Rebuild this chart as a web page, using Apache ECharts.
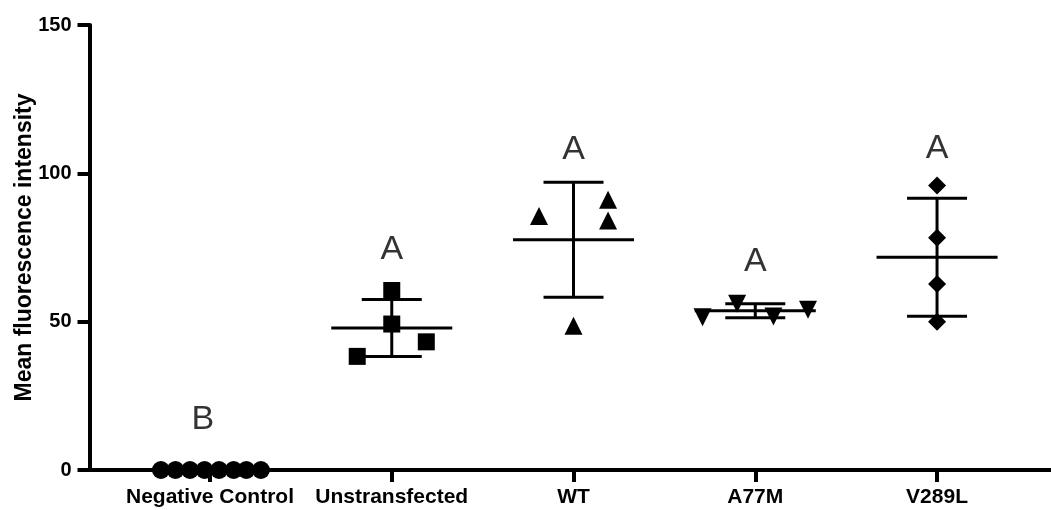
<!DOCTYPE html>
<html><head><meta charset="utf-8">
<script src="https://cdn.jsdelivr.net/npm/echarts@6/dist/echarts.min.js"></script>
<style>html,body{margin:0;padding:0;background:#fff}#c{width:1051px;height:510px}</style>
</head><body><div id="c"></div>
<script>
const categories = ['Negative Control','Unstransfected','WT','A77M','V289L'];
const yTicks = [0,50,100,150];
const negValues = [0,0,0,0,0,0,0,0];
const negJitter = [-0.27,-0.19,-0.11,-0.03,0.05,0.13,0.20,0.28];
const unstValues = [60.5,49.2,43.2,38.3];
const unstJitter = [0,0,0.19,-0.19];
const wtValues = [85.6,91.1,84.1,48.6];
const wtJitter = [-0.19,0.19,0.19,0];
const a77mValues = [51.5,56.0,51.7,54.0];
const a77mJitter = [-0.29,-0.10,0.10,0.29];
const v289lValues = [95.9,78.3,62.7,50.0];
const v289lJitter = [0,0,0,0];
const means = [0,47.9,77.6,53.7,71.7];
const sds = [0,9.6,19.4,2.35,19.9];
const letters = ['B','A','A','A','A'];
const letterY = [17.0,74.3,108,70.1,108.4];
const letterJitter = [-0.04,0,0,0,0];

const FONT = "'Liberation Sans', Arial, Helvetica, sans-serif";
function pts(i, vals, jit){ return vals.map((v,k)=>[i+jit[k], v]); }
function scatter(i, vals, jit, symbol, size, rotate){
  return {type:'scatter', data:pts(i,vals,jit), symbol:symbol, symbolSize:size, symbolRotate:rotate||0,
    itemStyle:{color:'#000', opacity:1}, silent:true, z:3};
}
const chart = echarts.init(document.getElementById('c'), null, {renderer:'canvas'});
chart.setOption({
  animation:false,
  grid:{left:89.5, right:0, top:25, bottom:40, containLabel:false, outerBoundsMode:'none'},
  xAxis:{type:'value', min:-0.663, max:4.627,
    axisLine:{show:true, onZero:false, lineStyle:{color:'#000', width:4}},
    axisTick:{show:true, customValues:[0,1,2,3,4], length:12, lineStyle:{color:'#000', width:4}},
    axisLabel:{show:true, customValues:[0,1,2,3,4], formatter:v=>categories[Math.round(v)],
      fontSize:21, fontWeight:'bold', color:'#000', fontFamily:FONT, margin:17},
    splitLine:{show:false}},
  yAxis:{type:'value', min:0, max:150, interval:50,
    name:'Mean fluorescence intensity', nameLocation:'middle', nameGap:53, nameMoveOverlap:false,
    nameTextStyle:{fontSize:23, fontWeight:'bold', color:'#000', fontFamily:FONT},
    axisLine:{show:true, onZero:false, lineStyle:{color:'#000', width:4}},
    axisTick:{show:true, length:12, lineStyle:{color:'#000', width:4}},
    axisLabel:{fontSize:20, fontWeight:'bold', color:'#000', fontFamily:FONT, margin:18,
      formatter:v=>yTicks.indexOf(v)>=0?String(v):''},
    splitLine:{show:false}},
  series:[
    {type:'custom', silent:true, z:4, clip:false,
     data:means.map((m,i)=>[i,m,sds[i]]),
     renderItem:function(params, api){
       const x=api.value(0), m=api.value(1), s=api.value(2);
       const c=api.coord([x,m]), up=api.coord([x,m+s]), lo=api.coord([x,m-s]);
       const hm=60.5, hc=30;
       const st={stroke:'#000', lineWidth:3};
       return {type:'group', children:[
         {type:'line', shape:{x1:c[0]-hm,y1:c[1],x2:c[0]+hm,y2:c[1]}, style:st},
         {type:'line', shape:{x1:c[0],y1:up[1],x2:c[0],y2:lo[1]}, style:st},
         {type:'line', shape:{x1:c[0]-hc,y1:up[1],x2:c[0]+hc,y2:up[1]}, style:st},
         {type:'line', shape:{x1:c[0]-hc,y1:lo[1],x2:c[0]+hc,y2:lo[1]}, style:st}
       ]};
     }},
    scatter(0, negValues, negJitter, 'circle', 18),
    scatter(1, unstValues, unstJitter, 'rect', 17),
    scatter(2, wtValues, wtJitter, 'triangle', 18),
    scatter(3, a77mValues, a77mJitter, 'triangle', 18, 180),
    scatter(4, v289lValues, v289lJitter, 'diamond', 18),
    {type:'scatter', silent:true, symbolSize:1, itemStyle:{color:'rgba(0,0,0,0)'}, z:5,
     data:letters.map((l,i)=>[i+letterJitter[i], letterY[i]]),
     label:{show:true, position:'inside', formatter:p=>letters[p.dataIndex],
       fontSize:34, color:'#000', fontFamily:FONT, fontWeight:'normal',
       textBorderWidth:0, textBorderColor:'transparent', textShadowBlur:0}}
  ]
});
</script></body></html>
